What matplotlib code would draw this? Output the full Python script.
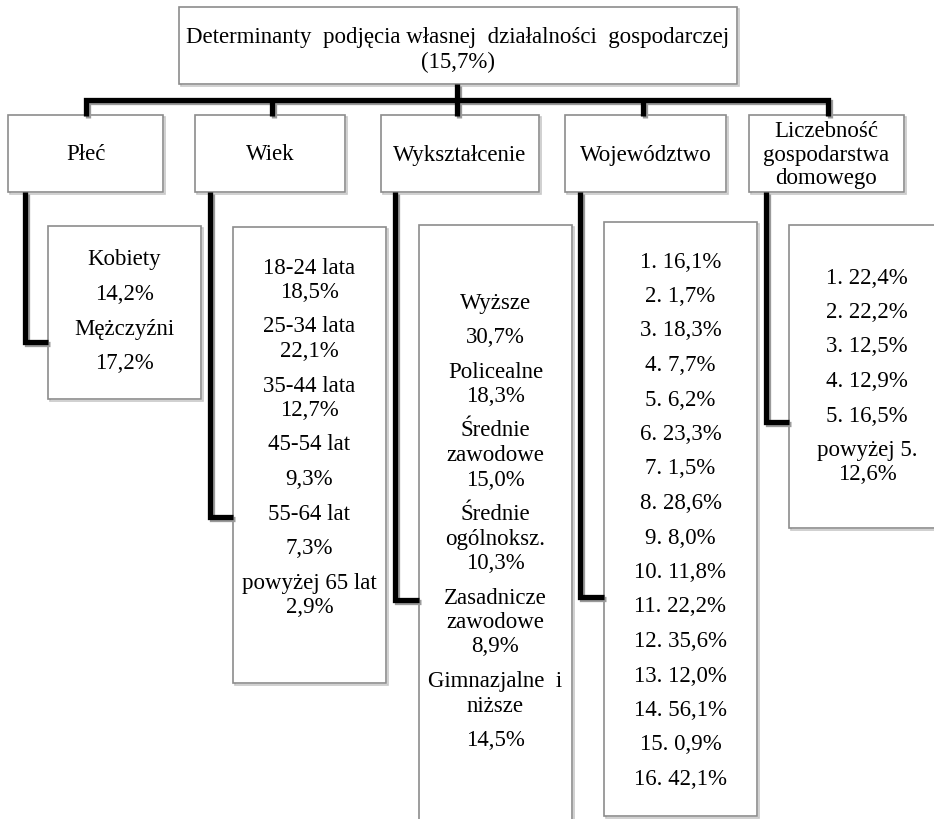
"""Tree diagram: determinanty podjęcia własnej działalności gospodarczej."""

import matplotlib
matplotlib.use("Agg")
import matplotlib.pyplot as plt
from matplotlib.patches import Rectangle

plt.rcParams["font.family"] = "serif"
plt.rcParams["font.serif"] = ["Liberation Serif", "DejaVu Serif"]

# ---- data -------------------------------------------------------------
title = "Determinanty  podjęcia własnej  działalności  gospodarczej"
total = 15.7

headers = ["Płeć", "Wiek", "Wykształcenie", "Województwo",
           "Liczebność\ngospodarstwa\ndomowego"]

plec_labels = ["Kobiety", "Mężczyźni"]
plec_values = [14.2, 17.2]

wiek_labels = ["18-24 lata", "25-34 lata", "35-44 lata", "45-54 lat",
               "55-64 lat", "powyżej 65 lat"]
wiek_values = [18.5, 22.1, 12.7, 9.3, 7.3, 2.9]

wyk_labels = ["Wyższe", "Policealne", "Średnie\nzawodowe", "Średnie\nogólnoksz.",
              "Zasadnicze\nzawodowe", "Gimnazjalne  i\nniższe"]
wyk_values = [30.7, 18.3, 15.0, 10.3, 8.9, 14.5]

woj_values = [16.1, 1.7, 18.3, 7.7, 6.2, 23.3, 1.5, 28.6, 8.0, 11.8,
              22.2, 35.6, 12.0, 56.1, 0.9, 42.1]

licz_labels = ["1.", "2.", "3.", "4.", "5.", "powyżej 5."]
licz_values = [22.4, 22.2, 12.5, 12.9, 16.5, 12.6]


def pct(v):
    return f"{v:.1f}%".replace(".", ",")


# paragraphs: a label and its value either share a paragraph or not
def paragraphs(labels, values, split):
    out = []
    for lab, val, s in zip(labels, values, split):
        lines = lab.split("\n")
        if s:
            out.append(lines)
            out.append([pct(val)])
        else:
            out.append(lines + [pct(val)])
    return out


plec_par = paragraphs(plec_labels, plec_values, [True, True])
wiek_par = paragraphs(wiek_labels, wiek_values,
                      [False, False, False, True, True, False])
wyk_par = paragraphs(wyk_labels, wyk_values,
                     [True, False, False, False, False, True])
woj_par = [[f"{i + 1}. {pct(v)}"] for i, v in enumerate(woj_values)]
licz_par = [[f"{lab} {pct(v)}"] for lab, v in zip(licz_labels[:5], licz_values[:5])]
licz_par.append([licz_labels[5], pct(licz_values[5])])

# ---- layout (pixels, y downwards) ----------------------------------------
W, H = 934, 819
fig = plt.figure(figsize=(W / 100, H / 100), dpi=100)
ax = fig.add_axes([0, 0, 1, 1])
ax.set_xlim(0, W)
ax.set_ylim(H, 0)
ax.axis("off")

FS = 16.5
LINE = 24.5   # line step inside a paragraph
PARA = 34.5   # step between paragraphs
EDGE = "#8c8c8c"
LW_CONN = 3.8


def box(x0, x1, y0, y1):
    ax.add_patch(Rectangle((x0 + 1.5, y0 + 1.5), x1 - x0, y1 - y0,
                           facecolor="none", edgecolor="#c8c8c8", lw=1.2, zorder=1))
    ax.add_patch(Rectangle((x0, y0), x1 - x0, y1 - y0,
                           facecolor="white", edgecolor=EDGE, lw=1.2, zorder=2))


def conn(xs, ys):
    ax.plot([x + 1.5 for x in xs], [y + 1.5 for y in ys], color="#9a9a9a",
            lw=LW_CONN, solid_joinstyle="miter", solid_capstyle="butt", zorder=3)
    ax.plot(xs, ys, color="black", lw=LW_CONN,
            solid_joinstyle="miter", solid_capstyle="butt", zorder=4)


def write(pars, xc, y0):
    y = y0
    for i, par in enumerate(pars):
        if i:
            y += PARA
        for j, line in enumerate(par):
            if j:
                y += LINE
            ax.text(xc, y, line, ha="center", va="center", fontsize=FS, zorder=5)


# top box
box(179, 737, 7, 84)
ax.text(458, 37, title, ha="center", va="center", fontsize=FS, zorder=5)
ax.text(458, 62, f"({pct(total)})", ha="center", va="center", fontsize=FS, zorder=5)

# connectors to headers
drops = [86, 272, 457, 643, 828]
conn([457, 457], [84, 100])
conn([drops[0], drops[0], drops[-1], drops[-1]], [116, 100, 100, 116])
for x in drops[1:-1]:
    conn([x, x], [100, 116])

# header boxes
head_x = [(8, 163), (195, 345), (381, 539), (565, 726), (749, 904)]
head_y = (115, 192)
for (x0, x1), lab in zip(head_x, headers):
    box(x0, x1, *head_y)
    ax.text((x0 + x1) / 2, 155, lab, ha="center", va="center", fontsize=FS,
            linespacing=1.15, zorder=5)

# sub boxes: x range, y range, connector x, connector elbow y, first line y
subs = [
    ((48, 201), (226, 399), 25, 342, 260, plec_par),
    ((233, 386), (227, 683), 210, 517, 268, wiek_par),
    ((419, 572), (225, 830), 395, 600, 303, wyk_par),
    ((604, 757), (222, 816), 580, 597, 262, woj_par),
    ((789, 945), (225, 528), 766, 422, 278, licz_par),
]
for (x0, x1), (y0, y1), cx, cy, ty, pars in subs:
    box(x0, x1, y0, y1)
    conn([cx, cx, x0], [192, cy, cy])
    write(pars, (x0 + x1) / 2, ty)

fig.savefig("out.png", dpi=100, facecolor="white")
